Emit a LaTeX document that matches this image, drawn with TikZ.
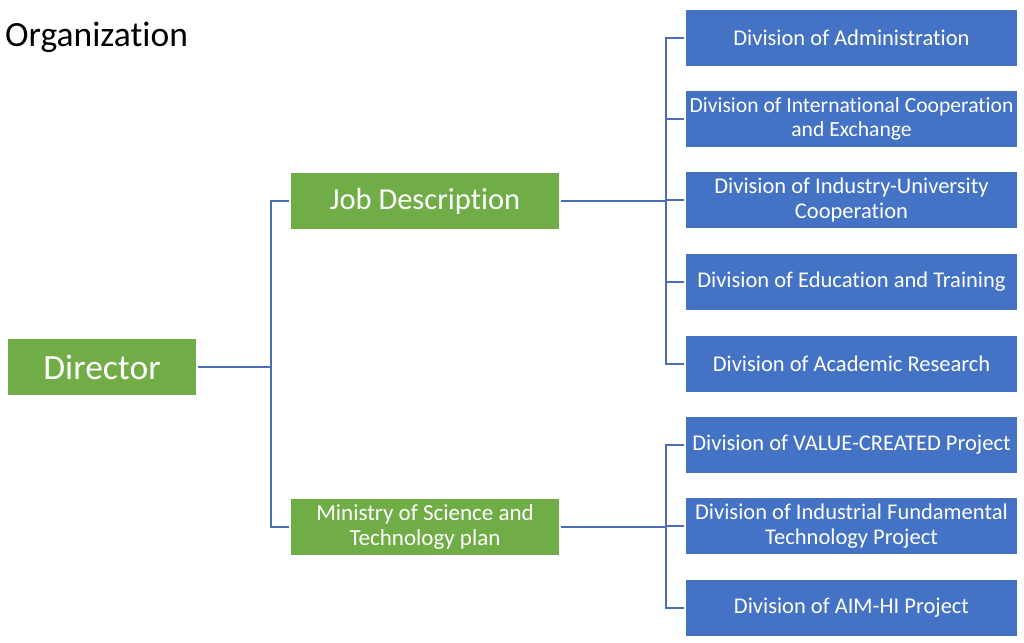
\documentclass[tikz,border=0pt]{standalone}
\usepackage{fontspec}
\setmainfont{Carlito}[Ligatures={NoCommon}]
\definecolor{grn}{HTML}{70AD47}
\definecolor{blu}{HTML}{4472C4}
\definecolor{lnc}{HTML}{4A6FB5}
\begin{document}
\begin{tikzpicture}[x=1pt,y=-1pt,
  greenbox/.style={fill=grn,text=white,inner sep=0pt,minimum width=268pt,minimum height=56pt,align=center},
  bluebox/.style={fill=blu,text=white,inner sep=0pt,minimum width=331pt,minimum height=56pt,align=center,font=\fontsize{22.5}{24.5}\selectfont},
  conn/.style={draw=lnc,line width=1.5pt}]
\useasboundingbox (0,0) rectangle (1024,642);
\node[anchor=base west,inner sep=0pt,font=\fontsize{35.5}{40}\selectfont] (title) at (5,47) {Organization};
\node[greenbox,minimum width=188pt,font=\fontsize{35.5}{40}\selectfont] (dir) at (102,367) {Director};
\node[greenbox,font=\fontsize{30.5}{34}\selectfont] (job) at (425,201) {Job Description};
\node[greenbox,font=\fontsize{23}{25}\selectfont] (min) at (425,527) {Ministry of Science and\\Technology plan};
\node[bluebox] (d1) at (851.5,38) {Division of Administration};
\node[bluebox,font=\fontsize{21.6}{24.5}\selectfont] (d2) at (851.5,119) {\makebox[325pt][c]{Division of International Cooperation}\\and Exchange};
\node[bluebox] (d3) at (851.5,200) {Division of Industry-University\\Cooperation};
\node[bluebox] (d4) at (851.5,282) {Division of Education and Training};
\node[bluebox] (d5) at (851.5,364) {Division of Academic Research};
\node[bluebox] (d6) at (851.5,445) {Division of VALUE-CREATED Project};
\node[bluebox] (d7) at (851.5,526) {Division of Industrial Fundamental\\Technology Project};
\node[bluebox] (d8) at (851.5,608) {Division of AIM-HI Project};
\coordinate (b1) at (271,367);
\coordinate (b2) at (666,201);
\coordinate (b3) at (666,527);
\draw[conn,shorten <=2pt] (dir.east) -- (b1);
\draw[conn,shorten <=2pt,shorten >=2pt] (job.west) -| (b1) |- (min.west);
\draw[conn,shorten <=2pt] (job.east) -- (b2);
\draw[conn,shorten <=2pt,shorten >=2pt] (d1.west) -| (b2) |- (d5.west);
\foreach \n in {d2,d3,d4}{\draw[conn,shorten <=2pt] (\n.west) -- (\n.west -| b2);}
\draw[conn,shorten <=2pt] (min.east) -- (b3);
\draw[conn,shorten <=2pt,shorten >=2pt] (d6.west) -| (b3) |- (d8.west);
\draw[conn,shorten <=2pt] (d7.west) -- (d7.west -| b3);
\end{tikzpicture}
\end{document}
